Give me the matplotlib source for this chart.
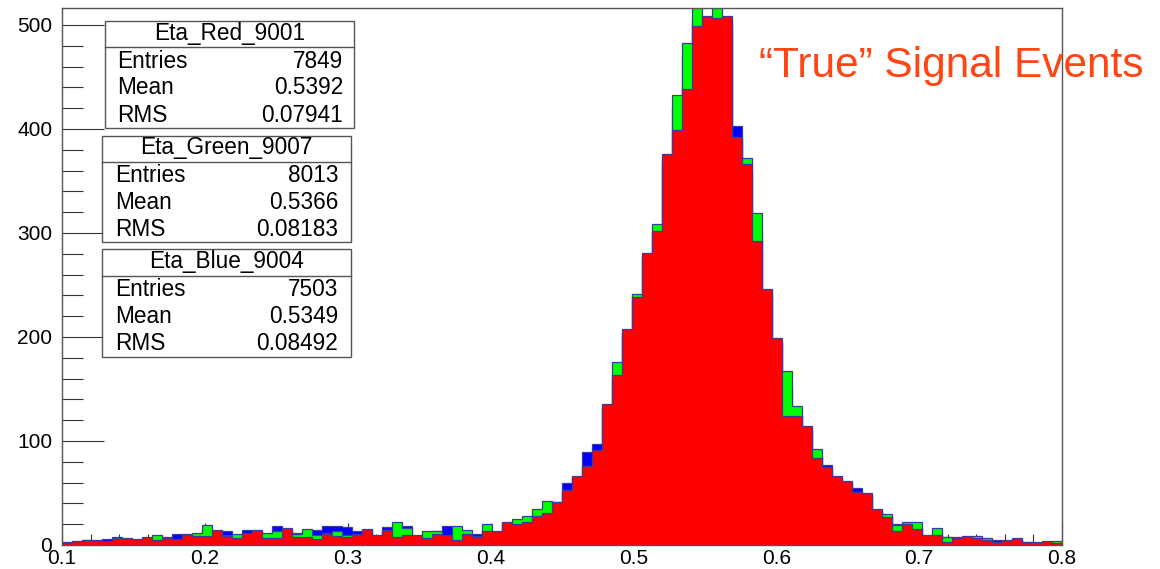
import numpy as np
import matplotlib
matplotlib.use("Agg")
import matplotlib.pyplot as plt
from matplotlib.patches import Rectangle
from matplotlib.lines import Line2D

plt.rcParams['font.family'] = ['Liberation Sans', 'DejaVu Sans']

# ---- data (counts per bin, 100 bins from 0.1 to 0.8) ----
x_min, x_max, n_bins = 0.1, 0.8, 100

red_counts = [2, 4, 5, 4, 4, 7, 7, 6, 8, 5,
              7, 6, 10, 9, 9, 14, 9, 7, 12, 14,
              7, 7, 16, 8, 8, 6, 11, 9, 8, 10,
              15, 10, 14, 8, 10, 10, 7, 11, 10, 5,
              11, 8, 13, 13, 22, 20, 22, 28, 31, 41,
              53, 66, 76, 91, 136, 163, 208, 238, 281, 302,
              376, 399, 438, 499, 509, 507, 509, 392, 366, 292,
              246, 199, 124, 124, 114, 84, 75, 66, 62, 51,
              50, 35, 27, 13, 20, 15, 10, 10, 3, 7,
              9, 7, 5, 3, 5, 7, 3, 3, 4, 2]

green_counts = [1, 3, 5, 5, 3, 8, 6, 5, 7, 10,
                8, 6, 9, 12, 19, 12, 10, 11, 12, 13,
                12, 13, 14, 11, 15, 10, 12, 13, 10, 11,
                13, 9, 12, 22, 16, 9, 13, 13, 10, 18,
                14, 9, 20, 12, 21, 25, 28, 35, 42, 39,
                52, 64, 74, 88, 133, 176, 205, 241, 278, 309,
                372, 433, 483, 535, 500, 532, 505, 390, 372, 319,
                244, 195, 167, 134, 110, 92, 72, 63, 60, 50,
                47, 33, 30, 19, 22, 22, 8, 16, 8, 6,
                8, 9, 7, 3, 4, 6, 2, 2, 3, 4]

blue_counts = [3, 3, 4, 4, 6, 6, 6, 5, 7, 8,
               7, 11, 11, 10, 15, 13, 13, 10, 14, 12,
               11, 18, 14, 12, 13, 14, 18, 18, 17, 13,
               14, 9, 17, 15, 18, 8, 10, 13, 18, 15,
               12, 11, 14, 12, 20, 22, 24, 30, 35, 41,
               60, 65, 89, 97, 132, 160, 203, 236, 275, 300,
               368, 420, 470, 505, 495, 500, 500, 403, 360, 300,
               240, 195, 150, 125, 112, 86, 77, 64, 60, 55,
               48, 33, 28, 20, 19, 16, 9, 12, 8, 8,
               7, 8, 6, 5, 4, 5, 3, 2, 3, 2]

stat_names = ["Eta_Red_9001", "Eta_Green_9007", "Eta_Blue_9004"]
stat_entries = ["7849", "8013", "7503"]
stat_means = ["0.5392", "0.5366", "0.5349"]
stat_rms = ["0.07941", "0.08183", "0.08492"]

x_ticks = [0.1, 0.2, 0.3, 0.4, 0.5, 0.6, 0.7, 0.8]
y_ticks = [0, 100, 200, 300, 400, 500]
y_top = 516

annotation = "\u201cTrue\u201d Signal Events"

# ---- figure ----
W, H = 1160, 569
fig = plt.figure(figsize=(W / 100, H / 100), dpi=100)

def fx(px):
    return px / W

def fy(py):
    return 1 - py / H

ax = fig.add_axes([fx(62), fy(545), fx(1062) - fx(62), fy(8.3) - fy(545)])
ax.set_axisbelow(True)

edges = np.linspace(x_min, x_max, n_bins + 1)
outline = '#3a3aa0'
for vals, col in [(blue_counts, '#0000ff'), (green_counts, '#00ff00'), (red_counts, '#ff0000')]:
    ax.stairs(vals, edges, fill=True, facecolor=col, edgecolor=outline,
              linewidth=0.9, zorder=1)

ax.set_xlim(x_min, x_max)
ax.set_ylim(0, y_top)

ax.set_xticks(x_ticks)
ax.set_xticklabels([f"{v:g}" for v in x_ticks])
ax.set_xticks(np.arange(0.1, 0.8001, 0.02), minor=True)
ax.set_yticks(y_ticks)
ax.set_yticklabels([str(v) for v in y_ticks])
ax.set_yticks(np.arange(0, 517, 20), minor=True)

ax.tick_params(axis='y', which='major', direction='in', length=30, width=0.8,
               color='#333333', labelsize=15, pad=7)
ax.tick_params(axis='y', which='minor', direction='in', length=15, width=0.8,
               color='#333333')
ax.tick_params(axis='x', which='major', direction='in', length=16, width=0.8,
               color='#333333', labelsize=15, pad=3)
ax.tick_params(axis='x', which='minor', direction='in', length=8, width=0.8,
               color='#333333')
for lbl in ax.get_xticklabels() + ax.get_yticklabels():
    lbl.set_color('black')

for s in ax.spines.values():
    s.set_color('#555555')
    s.set_linewidth(1.0)
    s.set_zorder(3)

# ---- stat boxes ----
boxes = [
    dict(x0=105, x1=354, y0=20.7, y1=128, div=47.3, tc=33.5, rows=[61, 88, 115], lx=117, rx=343),
    dict(x0=101.7, x1=351, y0=135.7, y1=242.3, div=162.3, tc=147.7, rows=[175, 202.3, 229.3], lx=115, rx=338),
    dict(x0=101.7, x1=351, y0=249.3, y1=356.7, div=276, tc=261.7, rows=[289.3, 316.7, 343.3], lx=115, rx=338),
]
fs_box = 16.3
for i, b in enumerate(boxes):
    rect = Rectangle((fx(b['x0']), fy(b['y1'])), fx(b['x1']) - fx(b['x0']),
                     fy(b['y0']) - fy(b['y1']), transform=fig.transFigure,
                     facecolor='white', edgecolor='#555555', linewidth=1.0, zorder=5)
    fig.add_artist(rect)
    fig.add_artist(Line2D([fx(b['x0']), fx(b['x1'])], [fy(b['div']), fy(b['div'])],
                          transform=fig.transFigure, color='#555555', linewidth=1.0, zorder=6))
    fig.text(fx((b['x0'] + b['x1']) / 2), fy(b['tc']), stat_names[i], ha='center', va='center',
             fontsize=fs_box, zorder=7)
    labels = ["Entries", "Mean", "RMS"]
    values = [stat_entries[i], stat_means[i], stat_rms[i]]
    for r, lab, val in zip(b['rows'], labels, values):
        fig.text(fx(b['lx']), fy(r), lab, ha='left', va='center', fontsize=fs_box, zorder=7)
        fig.text(fx(b['rx']), fy(r), val, ha='right', va='center', fontsize=fs_box, zorder=7)

fig.text(fx(759), fy(76.7), annotation, ha='left', va='baseline', fontsize=30.5,
         color='#ff4513', zorder=10)

fig.savefig("out.png", dpi=100)
